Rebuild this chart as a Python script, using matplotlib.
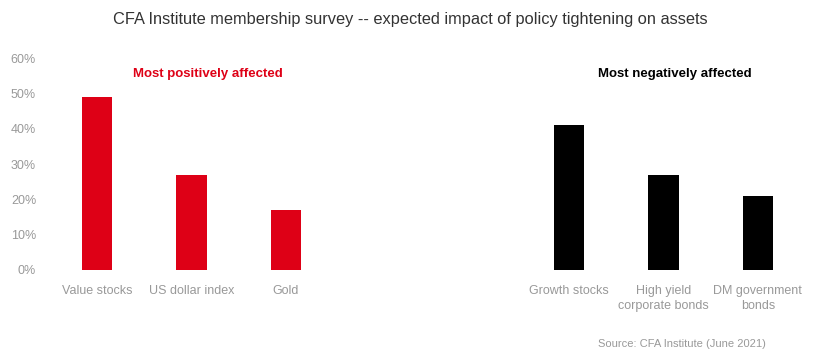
import matplotlib.pyplot as plt
from matplotlib.ticker import PercentFormatter

# Survey data (share of respondents)
pos_labels = ["Value stocks", "US dollar index", "Gold"]
pos_values = [0.49, 0.27, 0.17]
neg_labels = ["Growth stocks", "High yield\ncorporate bonds", "DM government\nbonds"]
neg_values = [0.41, 0.27, 0.21]

red = "#DE0016"
grey = "#999999"

plt.rcParams["font.family"] = ["Liberation Sans", "DejaVu Sans"]

fig = plt.figure(figsize=(8.21, 3.56), dpi=100)
ax = fig.add_axes([0.0609, 0.2416, 0.9196, 0.5941])

# two empty slots between the groups
pos_x = list(range(len(pos_labels)))
neg_x = [len(pos_labels) + 2 + i for i in range(len(neg_labels))]

ax.bar(pos_x, pos_values, width=0.32, color=red)
ax.bar(neg_x, neg_values, width=0.32, color="black")

ax.set_xlim(-0.5, neg_x[-1] + 0.5)
ax.set_ylim(0, 0.6)
ax.set_yticks([0, 0.1, 0.2, 0.3, 0.4, 0.5, 0.6])
ax.yaxis.set_major_formatter(PercentFormatter(1.0, decimals=0))
ax.set_xticks(pos_x + neg_x)
ax.set_xticklabels(pos_labels + neg_labels, linespacing=1.35)
ax.tick_params(axis="both", length=0, colors=grey, labelsize=9)
ax.tick_params(axis="x", pad=11)
ax.tick_params(axis="y", pad=10)
for s in ax.spines.values():
    s.set_visible(False)

# group headings
ax.text(1.17, 0.557, "Most positively affected", color=red, fontsize=9.5,
        fontweight="bold", ha="center", va="center")
ax.text(6.12, 0.557, "Most negatively affected", color="black", fontsize=9.5,
        fontweight="bold", ha="center", va="center")

fig.text(0.5, 0.945, "CFA Institute membership survey -- expected impact of policy tightening on assets",
         ha="center", va="center", fontsize=11.8, color="#333333")
fig.text(0.933, 0.035, "Source: CFA Institute (June 2021)", ha="right", va="center",
         fontsize=8, color=grey)

fig.savefig("out.png", dpi=100)
